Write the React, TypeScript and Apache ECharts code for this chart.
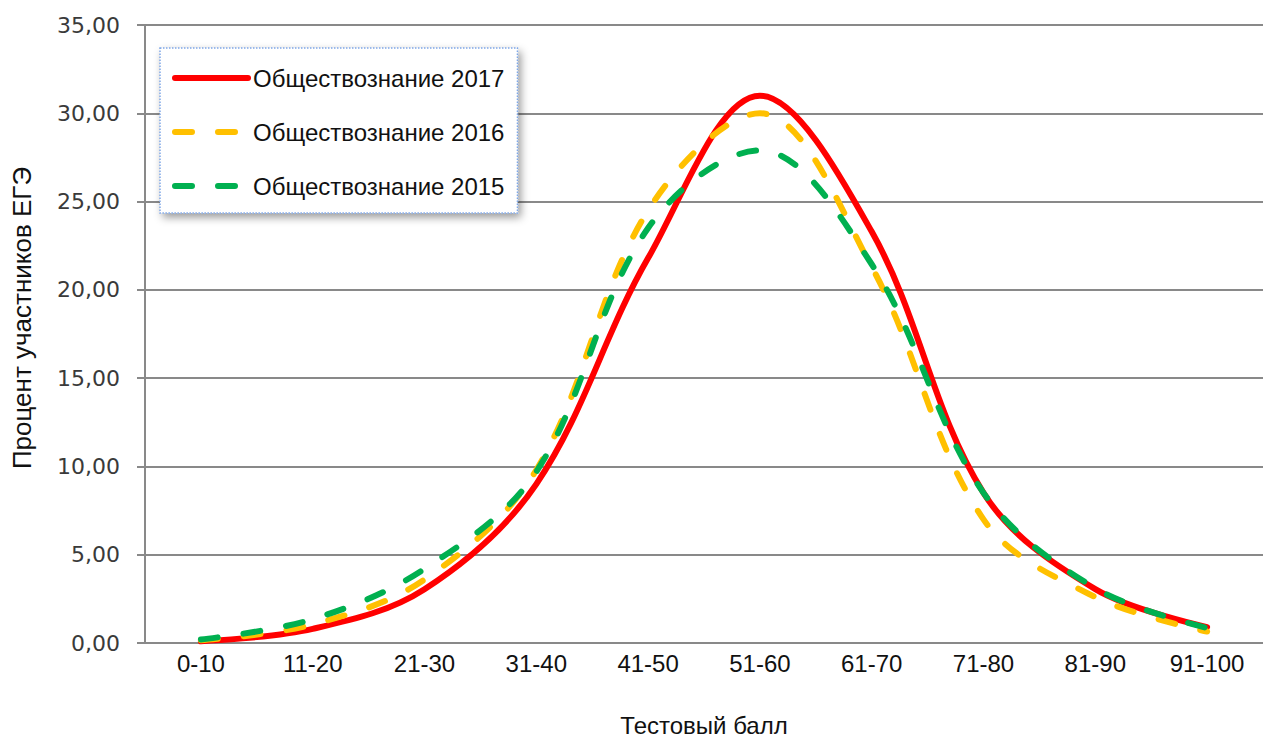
import React, { useEffect, useRef } from "react";
import * as echarts from "echarts";

const categories = ["0-10", "11-20", "21-30", "31-40", "41-50", "51-60", "61-70", "71-80", "81-90", "91-100"];
const values2017 = [0.1, 0.8, 3.05, 9.0, 21.8, 31.0, 23.3, 8.5, 3.05, 0.9];
const values2016 = [0.15, 1.05, 3.6, 9.8, 24.5, 30.0, 21.3, 7.0, 2.6, 0.65];
const values2015 = [0.2, 1.35, 4.2, 9.7, 23.5, 27.9, 21.45, 8.5, 3.1, 0.85];
const seriesNames = ["Обществознание 2017", "Обществознание 2016", "Обществознание 2015"];
const yTitle = "Процент участников ЕГЭ";
const xTitle = "Тестовый балл";

const TEXT_FONT = "'Liberation Sans', Arial, sans-serif";
const NUM_FONT = "'DejaVu Sans', Verdana, sans-serif";
const GRID = "#898989";

export default function App() {
  const ref = useRef<HTMLDivElement>(null);
  useEffect(() => {
    document.body.style.margin = "0";
    if (!ref.current) return;
    const chart = echarts.init(ref.current, null, { renderer: "svg" });
    const dash = [17, 26];
    const smooth = 0.35;
    chart.setOption({
      animation: false,
      backgroundColor: "#ffffff",
      grid: { left: 145, right: 0, top: 25, bottom: 98, containLabel: false },
      legend: {
        orient: "vertical",
        left: 160,
        top: 48,
        padding: [18, 13, 15, 12],
        itemWidth: 73,
        itemHeight: 24,
        itemGap: 30,
        backgroundColor: "#ffffff",
        borderColor: "#7fa7e6",
        borderWidth: 1.5,
        borderType: "dotted",
        shadowBlur: 8,
        shadowColor: "rgba(0,0,0,0.4)",
        shadowOffsetX: 3,
        shadowOffsetY: 4,
        itemStyle: { opacity: 0 },
        lineStyle: { width: "inherit", type: "inherit", cap: "round" },
        textStyle: { fontFamily: TEXT_FONT, fontSize: 24, color: "#111111" },
        data: seriesNames,
      },
      xAxis: {
        type: "category",
        data: categories,
        boundaryGap: true,
        name: xTitle,
        nameLocation: "middle",
        nameGap: 70,
        nameTextStyle: { fontFamily: TEXT_FONT, fontSize: 24, color: "#111111" },
        axisLine: { show: true, lineStyle: { color: GRID, width: 2 } },
        axisTick: { show: false },
        axisLabel: { fontFamily: TEXT_FONT, fontSize: 24, color: "#111111", margin: 8 },
        splitLine: { show: false },
      },
      yAxis: {
        type: "value",
        min: 0,
        max: 35,
        interval: 5,
        name: yTitle,
        nameLocation: "middle",
        nameGap: 110,
        nameTextStyle: { fontFamily: TEXT_FONT, fontSize: 26, color: "#111111", padding: [0, 0, 0, 32] },
        axisLine: { show: true, lineStyle: { color: GRID, width: 2 } },
        axisTick: { show: true, inside: false, length: 8, lineStyle: { color: GRID, width: 2 } },
        axisLabel: {
          fontFamily: NUM_FONT,
          fontSize: 22,
          color: "#3a3a3a",
          margin: 25,
          formatter: (v: number) => v.toFixed(2).replace(".", ","),
        },
        splitLine: { show: true, lineStyle: { color: GRID, width: 2 } },
      },
      series: [
        {
          name: seriesNames[0],
          type: "line",
          data: values2017,
          smooth,
          symbol: "none",
          color: "#ff0000",
          lineStyle: { color: "#ff0000", width: 6, cap: "round", join: "round" },
        },
        {
          name: seriesNames[1],
          type: "line",
          data: values2016,
          smooth,
          symbol: "none",
          color: "#ffc000",
          lineStyle: { color: "#ffc000", width: 6, type: dash, cap: "round", join: "round" },
        },
        {
          name: seriesNames[2],
          type: "line",
          data: values2015,
          smooth,
          symbol: "none",
          color: "#00b050",
          lineStyle: { color: "#00b050", width: 6, type: dash, cap: "round", join: "round" },
        },
      ],
    });
    return () => chart.dispose();
  }, []);
  return <div ref={ref} style={{ width: 1263, height: 742 }} />;
}
